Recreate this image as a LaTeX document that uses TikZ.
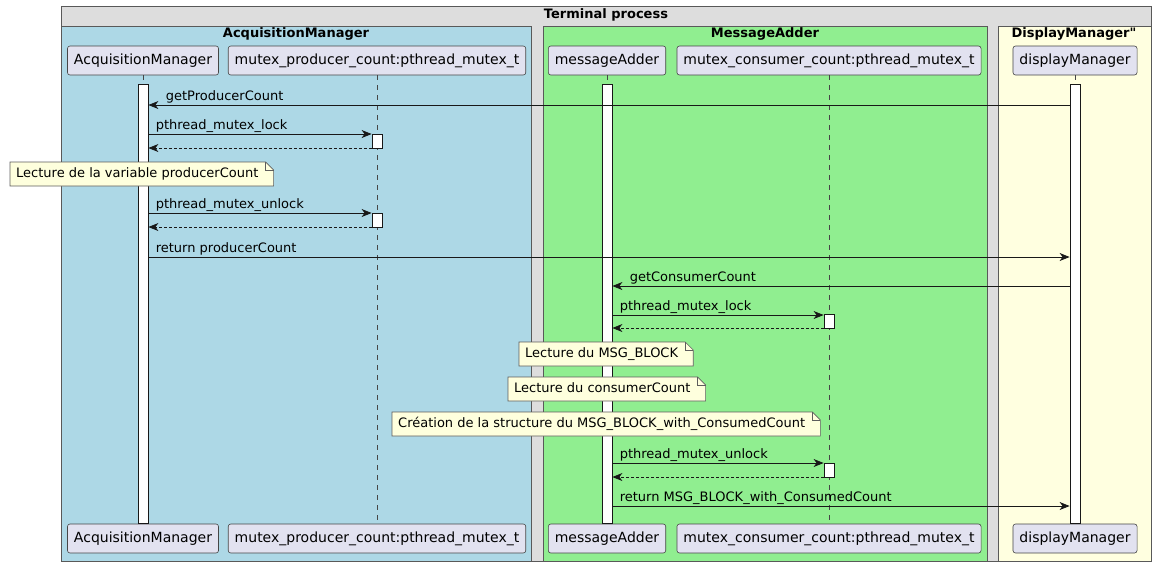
\documentclass[tikz,border=0pt]{standalone}
\usepackage{fontspec}
\setmainfont{DejaVu Sans}[Ligatures=TeXOff]
\usetikzlibrary{arrows.meta,positioning}

\definecolor{partfill}{HTML}{E2E2F0}
\definecolor{acqfill}{HTML}{ADD8E6}
\definecolor{addfill}{HTML}{90EE90}
\definecolor{dispfill}{HTML}{FFFFE0}
\definecolor{termfill}{HTML}{DDDDDD}
\definecolor{notefill}{HTML}{FEFFDD}
\definecolor{linecol}{HTML}{181818}

\newcommand\notebox[4]{%
  \path node[notetxt] (#1) at (#2,#3) {\phantom{#4}};
  \draw[notebdr] ([xshift=-6pt,yshift=-12pt]#1.west) -- ([xshift=-6pt,yshift=12pt]#1.west)
    -- ([xshift=7pt,yshift=12pt]#1.east) -- ([xshift=15pt,yshift=4pt]#1.east)
    -- ([xshift=15pt,yshift=-12pt]#1.east) -- cycle;
  \draw[linecol!70,line width=0.6pt] ([xshift=7pt,yshift=12pt]#1.east) -- ([xshift=7pt,yshift=4pt]#1.east) -- ([xshift=15pt,yshift=4pt]#1.east);
  \node[notetxt] at (#1.west) {#4};
}

\begin{document}
\begin{tikzpicture}[x=1pt,y=-1pt,
  grp/.style={draw=black!65,line width=0.7pt},
  grptitle/.style={font=\fontsize{13}{15}\bfseries\selectfont,inner sep=0pt},
  part/.style={draw=linecol!80,line width=0.6pt,fill=partfill,rounded corners=2.5pt,minimum height=29pt,inner xsep=6.5pt,font=\fontsize{14}{16}\selectfont},
  life/.style={draw=linecol!80,line width=0.6pt,dash pattern=on 5pt off 5pt},
  actbar/.style={draw=linecol,line width=0.8pt,fill=white,minimum width=10pt,inner sep=0pt},
  msg/.style={draw=linecol,line width=0.8pt,-{Stealth[length=10pt,width=8pt,inset=3pt]}},
  ret/.style={msg,dash pattern=on 3pt off 2pt},
  lbl/.style={font=\fontsize{13}{15}\selectfont,inner sep=0pt,anchor=base west,yshift=4.5pt},
  notetxt/.style={font=\fontsize{13}{15}\selectfont,inner sep=0pt,anchor=west,text height=10pt,text depth=3pt},
  notebdr/.style={draw=linecol!70,line width=0.6pt,fill=notefill}
]
\useasboundingbox (0,0) rectangle (1156,566);

\draw[grp,fill=termfill] (61,6) rectangle (1151,561);
\draw[grp,fill=acqfill] (61,26) rectangle (531.5,561);
\draw[grp,fill=addfill] (543,26) rectangle (987,561);
\draw[grp,fill=dispfill] (998,26) rectangle (1151,561);
\node[grptitle] (tTerm) at (606,15) {Terminal process};
\node[grptitle] (tAcq) at (296,34) {AcquisitionManager};
\node[grptitle] (tAdd) at (765,34) {MessageAdder};
\node[grptitle] (tDisp) at (1074,34) {DisplayManager"};

\node[part] (acqH) at (143,60.5) {AcquisitionManager};
\node[part] (mpH) at (377,60.5) {mutex\_producer\_count:pthread\_mutex\_t};
\node[part] (addH) at (607,60.5) {messageAdder};
\node[part] (mcH) at (829,60.5) {mutex\_consumer\_count:pthread\_mutex\_t};
\node[part] (dispH) at (1075,60.5) {displayManager};
\node[part] (acqF) at (143,538.5) {AcquisitionManager};
\node[part] (mpF) at (377,538.5) {mutex\_producer\_count:pthread\_mutex\_t};
\node[part] (addF) at (607,538.5) {messageAdder};
\node[part] (mcF) at (829,538.5) {mutex\_consumer\_count:pthread\_mutex\_t};
\node[part] (dispF) at (1075,538.5) {displayManager};

\draw[life] (acqH) -- (acqF);
\draw[life] (mpH) -- (mpF);
\draw[life] (addH) -- (addF);
\draw[life] (mcH) -- (mcF);
\draw[life] (dispH) -- (dispF);

\node[actbar,minimum height=439pt] (barA) at (143,303.5) {};
\node[actbar,minimum height=439pt] (barM) at (607,303.5) {};
\node[actbar,minimum height=439pt] (barD) at (1075,303.5) {};
\node[actbar,minimum height=14pt] (bp1) at (377,141) {};
\node[actbar,minimum height=14pt] (bp2) at (377,220) {};
\node[actbar,minimum height=14pt] (bc1) at (829,321.5) {};
\node[actbar,minimum height=14pt] (bc2) at (829,470) {};

\draw[msg] (barD.west |- 0,105) -- (barA.east |- 0,105) node[lbl,at end,xshift=17pt] {getProducerCount};
\draw[msg] (barA.east |- 0,134) -- (bp1.west |- 0,134) node[lbl,at start,xshift=7pt] {pthread\_mutex\_lock};
\draw[ret] (bp1.west |- 0,148) -- (barA.east |- 0,148);
\draw[msg] (barA.east |- 0,213) -- (bp2.west |- 0,213) node[lbl,at start,xshift=7pt] {pthread\_mutex\_unlock};
\draw[ret] (bp2.west |- 0,227) -- (barA.east |- 0,227);
\draw[msg] (barA.east |- 0,257) -- (barD.west |- 0,257) node[lbl,at start,xshift=7pt] {return producerCount};
\draw[msg] (barD.west |- 0,286) -- (barM.east |- 0,286) node[lbl,at end,xshift=17pt] {getConsumerCount};
\draw[msg] (barM.east |- 0,315) -- (bc1.west |- 0,315) node[lbl,at start,xshift=7pt] {pthread\_mutex\_lock};
\draw[ret] (bc1.west |- 0,328) -- (barM.east |- 0,328);
\draw[msg] (barM.east |- 0,463) -- (bc2.west |- 0,463) node[lbl,at start,xshift=7pt] {pthread\_mutex\_unlock};
\draw[ret] (bc2.west |- 0,477) -- (barM.east |- 0,477);
\draw[msg] (barM.east |- 0,506) -- (barD.west |- 0,506) node[lbl,at start,xshift=7pt] {return MSG\_BLOCK\_with\_ConsumedCount};

\notebox{n1}{16}{174}{Lecture de la variable producerCount}
\notebox{n2}{525}{354}{Lecture du MSG\_BLOCK}
\notebox{n3}{514}{389}{Lecture du consumerCount}
\notebox{n4}{398}{424}{Création de la structure du MSG\_BLOCK\_with\_ConsumedCount}
\end{tikzpicture}
\end{document}
